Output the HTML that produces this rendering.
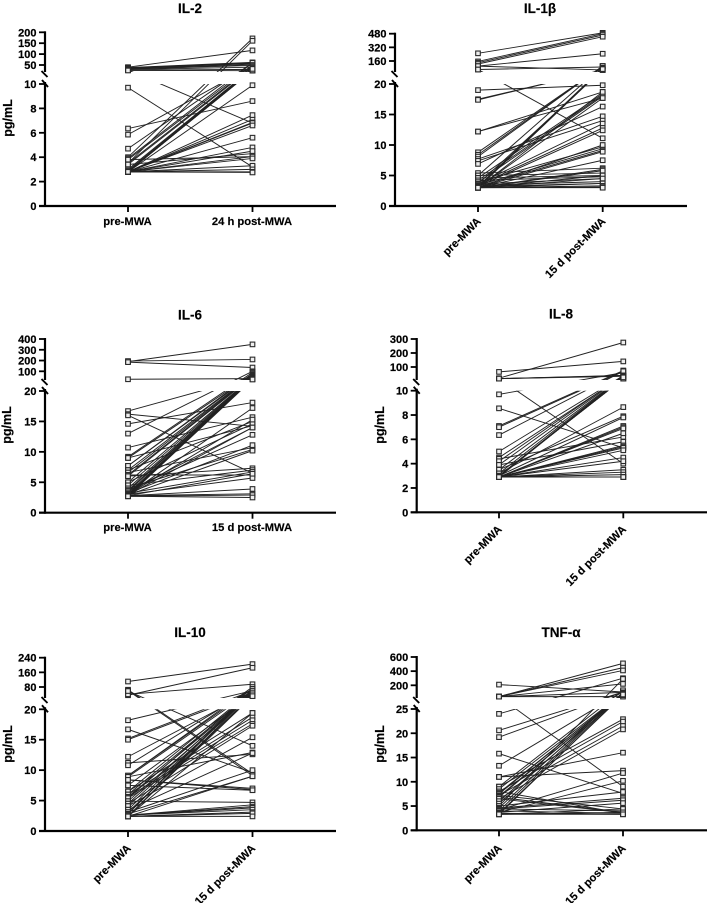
<!DOCTYPE html>
<html lang="en">
<head>
<meta charset="utf-8">
<title>Cytokine levels pre- and post-MWA</title>
<style>
html,body{margin:0;padding:0;background:#fff;overflow:hidden;}
svg{display:block;font-family:"Liberation Sans",sans-serif;filter:blur(0.3px);}
.title{font-size:13.5px;font-weight:700;text-anchor:middle;fill:#000;stroke:#000;stroke-width:.15px;}
.ytitle{font-size:12.5px;font-weight:700;text-anchor:middle;fill:#000;stroke:#000;stroke-width:.2px;}
.tick{font-size:11px;font-weight:700;text-anchor:end;fill:#000;stroke:#000;stroke-width:.2px;}
.xlab{font-size:11.2px;font-weight:700;fill:#000;stroke:#000;stroke-width:.15px;}
</style>
</head>
<body>
<svg id="figure" width="709" height="903" viewBox="0 0 709 903" xmlns="http://www.w3.org/2000/svg">
  <g id="p-il2">
    <text class="title" x="190" y="13">IL-2</text>
    <text class="ytitle" transform="translate(12,118) rotate(-90)">pg/mL</text>
  </g>
  <g id="p-il1b">
    <text class="title" x="540" y="13">IL-1β</text>
  </g>
  <g id="p-il6">
    <text class="title" x="190" y="319.5">IL-6</text>
    <text class="ytitle" transform="translate(11,425) rotate(-90)">pg/mL</text>
  </g>
  <g id="p-il8">
    <text class="title" x="561" y="318.5">IL-8</text>
    <text class="ytitle" transform="translate(384,425) rotate(-90)">pg/mL</text>
  </g>
  <g id="p-il10">
    <text class="title" x="190" y="637">IL-10</text>
    <text class="ytitle" transform="translate(12,744) rotate(-90)">pg/mL</text>
  </g>
  <g id="p-tnf">
    <text class="title" x="561" y="637">TNF-α</text>
    <text class="ytitle" transform="translate(384,744) rotate(-90)">pg/mL</text>
  </g>
</svg>
<script>
/* ---------- data: values in pg/mL ---------- */
const il2Categories = ["pre-MWA", "24 h post-MWA"];
const il2LowerTicks = [0, 2, 4, 6, 8, 10];
const il2UpperTicks = [50, 100, 150, 200];
const il2Pre  = [40,38,37,36,35,33,31,29,27,26,25,9.7,6.35,5.85,4.7,4,3.5,3.9,3.8,3.5,3.4,3,2.9,2.8,2.8,2.8,2.8,2.8,3.8,3.4,2.8,2.8,2.8,2.8,2.8,2.8,2.8,2.8,2.8,2.8,2.8,2.8,2.8,2.8,2.8];
const il2Post = [117,62,60,58,56,52,48,40,6.8,30,24,3.2,8.6,45,60,172,161,60,50,45,40,35,33,25,25,28,25,32,4.05,4.3,9.9,7.1,7.45,6.85,6.8,6.6,5.6,4.8,4.5,4.05,3.9,3.3,3,2.8,2.75];

const il1bCategories = ["pre-MWA", "15 d post-MWA"];
const il1bLowerTicks = [0, 5, 10, 15, 20];
const il1bUpperTicks = [160, 320, 480];
const il1bPre  = [250,155,140,125,100,100,60,60,19,17.5,17.4,12.2,12.2,8.8,8.4,8.1,7.7,7.4,6.9,5.4,5,5,4.6,4.6,4.2,4.2,3.9,3.9,3.6,3.6,3.6,3.4,3.4,3.4,3.2,3.2,3.2,3.2,3,3,3,3,3,3,3,3,3,3,3,3,3,3,3,3];
const il1bPost = [490,480,465,445,245,55,11.1,90,19.8,55,55,18.7,17.7,100,100,100,14.7,14,16.3,6.2,5.4,100,18.4,5,18.2,4.8,18,9.7,13.5,60,4.5,12.8,9.4,4,80,12.4,9.1,3.7,75,70,65,18.7,17.7,10,8.9,7.5,6,5.8,5,4.5,3.7,3.3,3.1,3];

const il6Categories = ["pre-MWA", "15 d post-MWA"];
const il6LowerTicks = [0, 5, 10, 15, 20];
const il6UpperTicks = [100, 200, 300, 400];
const il6Pre  = [190,195,185,26,16.7,16.2,16,14.6,13,10.7,9.2,9,9,7.7,7.7,7,7,6.6,6.6,6.2,6.2,6,6,5,5,4.5,4.5,4,4,3.7,3.7,3.5,3.5,3.2,3.2,3.2,3,3,3,3,2.9,2.9,2.9,2.8,2.8,2.8,2.8,2.7,2.7,2.7];
const il6Post = [350,210,135,32,50,14.2,6.5,18.1,100,15.7,90,75,14.3,80,70,65,15,60,10.7,55,6.2,50,7.3,45,14.6,42,7,40,10.4,36,12.8,34,14,32,11.1,6.7,30,17.2,15.3,5.7,28,14,10.2,26,6.4,3.9,3.1,24,2.9,2.5];

const il8Categories = ["pre-MWA", "15 d post-MWA"];
const il8LowerTicks = [0, 2, 4, 6, 8, 10];
const il8UpperTicks = [100, 200, 300];
const il8Pre  = [65,20,17,17,17,17,17,9.7,8.55,7.1,7,6.35,5,4.5,4.4,4.2,3.9,3.9,3.5,3.5,3.2,3.2,3,3,3,3,3,3,2.9,2.9,2.9,2.9,2.9,2.9,2.9,2.9,2.9,2.9,2.9,2.9,2.9,2.9,2.9,2.9,2.9,2.9];
const il8Post = [140,275,40,38,36,34,4,60,5.3,75,70,70,38,35,6.2,40,36,5.8,32,7.9,30,8.65,28,17,17,17,17,7.8,26,7.1,7,6.9,6.5,5.5,5.4,5.3,5.1,4.5,4.2,3.5,3.3,3.1,2.9,2.9,2.9,2.9];

const il10Categories = ["pre-MWA", "15 d post-MWA"];
const il10LowerTicks = [0, 5, 10, 15, 20];
const il10UpperTicks = [80, 160, 240];
const il10Pre  = [110,35,40,65,60,58,18.2,16.7,15.2,15,12.2,11.2,10.8,9.1,9.1,8.9,8.9,8.4,8.4,7.5,7.5,6.5,6.5,6,6,5.6,5.6,5.4,5.4,4.9,4.9,4.5,4.5,4.1,4.1,3.5,3.5,3.1,3.1,2.8,2.8,2.8,2.6,2.6,2.6,2.6,2.4,2.4,2.4,2.4,2.4,2.4,2.4,2.4];
const il10Post = [205,185,95,9.4,9.1,14,60,9.6,60,50,55,12.6,70,70,80,60,12.9,6.8,7,40,6.7,60,19.4,50,18.7,45,18.2,60,17.6,40,4.7,50,17.3,40,15.4,50,12.8,30,10,70,60,9,4.3,4,3.8,3.5,50,40,30,19.4,9,3.1,2.9,2.4];

const tnfCategories = ["pre-MWA", "15 d post-MWA"];
const tnfLowerTicks = [0, 5, 10, 15, 20, 25];
const tnfUpperTicks = [200, 400, 600];
const tnfPre  = [40,40,40,40,210,40,40,40,24,20.6,19.2,15.8,13.3,11,11,9,9,8.5,8,8,7.7,7.5,7.2,7.2,7,6.8,6.8,6.5,6.5,6,5.5,5,5,4.6,4.6,4.4,4.4,4.2,4,4,3.7,3.7,3.5,3.5,3.3,3.3,3.3,3.3];
const tnfPost = [510,450,410,40,105,220,9,100,300,105,105,7.6,110,16,12.3,130,22.9,90,22.4,3.5,80,90,21.5,4.4,70,3.7,80,20.8,3.6,60,100,290,7.9,90,6.6,6.2,4,11.8,80,3.5,10.2,5.6,60,3.3,70,4.4,3.7,3.3];

/* ---------- panel geometry (pixel anchors for the axis functions) ---------- */
const il2Frame  = {axisX:45,  xEnd:336, colA:128, colB:252.5, base:206,   lowMax:10, lowTop:84,    upV1:50,  upY1:65,    upV2:200, upY2:32.3,  upBottom:72,  labelY:225, rotate:false};
const il1bFrame = {axisX:395, xEnd:687, colA:478, colB:602.7, base:206,   lowMax:20, lowTop:84,    upV1:160, upY1:61,    upV2:480, upY2:33.7,  upBottom:72,  labelY:222, rotate:true};
const il6Frame  = {axisX:45,  xEnd:336, colA:128, colB:252.5, base:512.7, lowMax:20, lowTop:391,   upV1:100, upY1:371.3, upV2:400, upY2:339,   upBottom:380, labelY:531, rotate:false};
const il8Frame  = {axisX:416.7,xEnd:707,colA:499, colB:623.3, base:512.3, lowMax:10, lowTop:390.7, upV1:100, upY1:367,   upV2:300, upY2:339,   upBottom:380, labelY:530, rotate:true};
const il10Frame = {axisX:45,  xEnd:336, colA:128, colB:252.5, base:831,   lowMax:20, lowTop:709.3, upV1:80,  upY1:687,   upV2:240, upY2:657.7, upBottom:698, labelY:849, rotate:true};
const tnfFrame  = {axisX:416.7,xEnd:707,colA:499, colB:623,   base:830.3, lowMax:25, lowTop:709,   upV1:200, upY1:685.3, upV2:600, upY2:657,   upBottom:698, labelY:849, rotate:true};

const NS = "http://www.w3.org/2000/svg";
function mk(tag, attrs, parent) {
  const el = document.createElementNS(NS, tag);
  for (const k in attrs) el.setAttribute(k, attrs[k]);
  parent.appendChild(el);
  return el;
}

function drawPanel(id, frame, cats, lowTicks, upTicks, pre, post) {
  const root = document.getElementById(id);
  const yScale = function (v) {
    if (v <= frame.lowMax) return frame.base - v * (frame.base - frame.lowTop) / frame.lowMax;
    return frame.upY1 - (v - frame.upV1) * (frame.upY1 - frame.upY2) / (frame.upV2 - frame.upV1);
  };
  const xScale = function (i) { return i === 0 ? frame.colA : frame.colB; };

  const cp = mk("clipPath", {id: id + "-clip"}, root);
  mk("rect", {x: frame.axisX, y: 0, width: frame.xEnd - frame.axisX, height: frame.upBottom}, cp);
  mk("rect", {x: frame.axisX, y: frame.lowTop, width: frame.xEnd - frame.axisX, height: frame.base - frame.lowTop}, cp);

  const lines = mk("g", {"clip-path": "url(#" + id + "-clip)"}, root);
  
  
  pre.forEach(function (p, i) {
    const l = mk("line", {x1: xScale(0), y1: yScale(p), x2: xScale(1), y2: yScale(post[i]), stroke: "#222", "stroke-width": 0.95}, lines);
    
    
  });

  const marks = mk("g", {}, root);
  
  
  [pre, post].forEach(function (series, c) {
    series.forEach(function (v) {
      const y = yScale(v);
      if (y > frame.upBottom + 1 && y < frame.lowTop - 3) return;
      const r = mk("rect", {x: xScale(c) - 2.3, y: y - 2.3, width: 4.6, height: 4.6, fill: "#eee", stroke: "#2a2a2a", "stroke-width": 1.1}, marks);
      
      
    });
  });

  const axis = mk("g", {stroke: "#000", fill: "none"}, root);
  
  
  const ax = frame.axisX;
  const topY = yScale(upTicks[upTicks.length - 1]);
  mk("line", {x1: ax, y1: frame.base + 1, x2: ax, y2: frame.lowTop - 2, "stroke-width": 2.2}, axis);
  mk("line", {x1: ax, y1: frame.upBottom, x2: ax, y2: topY - 1, "stroke-width": 2.2}, axis);
  mk("line", {x1: ax - 6, y1: frame.base, x2: frame.xEnd, y2: frame.base, "stroke-width": 2.2}, axis);
  mk("line", {x1: ax - 3.5, y1: frame.upBottom - 1, x2: ax + 2.5, y2: frame.upBottom + 5, "stroke-width": 1.9}, axis);
  mk("line", {x1: ax - 3, y1: frame.lowTop - 4, x2: ax + 3, y2: frame.lowTop + 3, "stroke-width": 1.9}, axis);

  lowTicks.concat(upTicks).forEach(function (v) {
    const y = yScale(v);
    const t = mk("line", {x1: ax - 6, y1: y, x2: ax, y2: y, "stroke-width": 1.8}, axis);
    
    
    const lab = mk("text", {class: "tick", x: ax - 8.5, y: y + 4}, root);
    
    
    lab.textContent = v;
  });

  cats.forEach(function (c, i) {
    const x = xScale(i);
    const t = mk("line", {x1: x, y1: frame.base, x2: x, y2: frame.base + 6, "stroke-width": 1.8}, axis);
    
    
    const lab = frame.rotate
      ? mk("text", {class: "xlab", "text-anchor": "end", transform: "translate(" + (x + 3.5) + "," + frame.labelY + ") rotate(-45)"}, root)
      : mk("text", {class: "xlab", "text-anchor": "middle", x: x - 0.5, y: frame.labelY}, root);
    
    
    lab.textContent = c;
  });
}

drawPanel("p-il2", il2Frame, il2Categories, il2LowerTicks, il2UpperTicks, il2Pre, il2Post);
drawPanel("p-il1b", il1bFrame, il1bCategories, il1bLowerTicks, il1bUpperTicks, il1bPre, il1bPost);
drawPanel("p-il6", il6Frame, il6Categories, il6LowerTicks, il6UpperTicks, il6Pre, il6Post);
drawPanel("p-il8", il8Frame, il8Categories, il8LowerTicks, il8UpperTicks, il8Pre, il8Post);
drawPanel("p-il10", il10Frame, il10Categories, il10LowerTicks, il10UpperTicks, il10Pre, il10Post);
drawPanel("p-tnf", tnfFrame, tnfCategories, tnfLowerTicks, tnfUpperTicks, tnfPre, tnfPost);
</script>
</body>
</html>
